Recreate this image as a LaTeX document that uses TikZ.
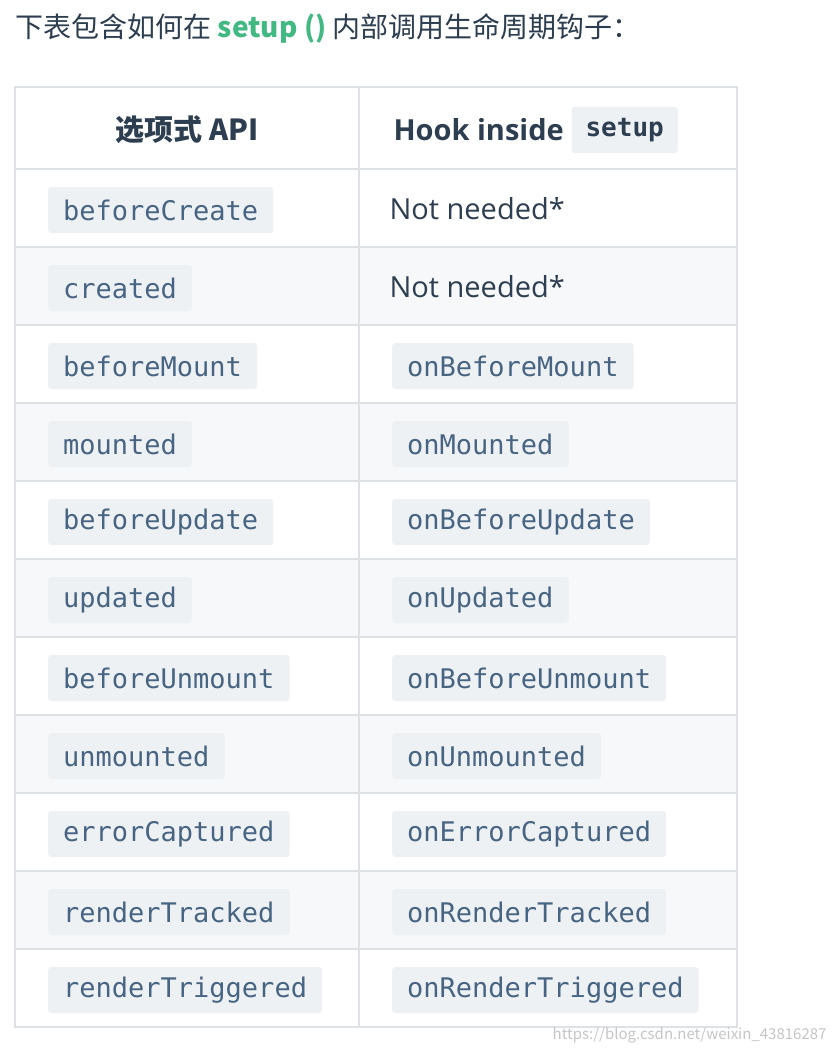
\documentclass[tikz,border=0pt]{standalone}
\usepackage{fontspec}
\setmainfont{Noto Sans CJK SC}
\newfontfamily\codefont{DejaVu Sans Mono}
\newfontfamily\latinsans{Open Sans}
\begin{document}
\begin{tikzpicture}[x=1pt,y=-1pt,
  chip/.style={fill=chipbg,rounded corners=3pt,inner xsep=15pt,minimum height=46pt,anchor=west,text=codec,font=\codefont\fontsize{27}{30}\selectfont},
  plain/.style={anchor=west,text=txt,font=\fontsize{28}{32}\selectfont},
  grid/.style={draw=lineg,line width=1.2pt}]
\definecolor{chipbg}{HTML}{EEF1F4}
\definecolor{codec}{HTML}{476582}
\definecolor{txt}{HTML}{2C3E50}
\definecolor{grn}{HTML}{42B983}
\definecolor{lineg}{HTML}{DFE2E5}
\definecolor{alt}{HTML}{F6F8FA}
\useasboundingbox (0,0) rectangle (836,1054);
\fill[white] (0,0) rectangle (836,1054);
\node[plain,font=\fontsize{28}{30}\selectfont] (title) at (12,28) {下表包含如何在 \textcolor{grn}{\textbf{setup ()}} 内部调用生命周期钩子：};
\foreach \i in {2,4,6,8,10} {\fill[alt] (15,{169+78*(\i-1)}) rectangle (737,{169+78*\i});}
\foreach \i in {0,...,11} {\draw[grid] (15,{169+78*\i}) -- (737,{169+78*\i});}
\draw[grid] (15,87) rectangle (737,1027);
\draw[grid] (359,87) -- (359,1027);
\node[plain,font=\bfseries\fontsize{29}{32}\selectfont,anchor=center] (h1) at (187,130) {选项式 API};
\node[plain,font=\latinsans\bfseries\fontsize{29}{32}\selectfont] (h2) at (390,130) {Hook inside};
\node[chip,font=\codefont\bfseries\fontsize{26}{30}\selectfont,text=txt,inner xsep=14pt,xshift=4pt] (h3) at (h2.east) {setup};
\foreach \a/\b [count=\i] in {beforeCreate/,created/,beforeMount/onBeforeMount,mounted/onMounted,beforeUpdate/onBeforeUpdate,updated/onUpdated,beforeUnmount/onBeforeUnmount,unmounted/onUnmounted,errorCaptured/onErrorCaptured,renderTracked/onRenderTracked,renderTriggered/onRenderTriggered} {
  \node[chip] (a\i) at (48,{169+78*(\i-1)+41}) {\a};
  \ifnum\i>2 \node[chip] (b\i) at (392,{169+78*(\i-1)+41}) {\b};
  \else \node[plain,font=\latinsans\fontsize{29}{32}\selectfont] (b\i) at (386,{169+78*(\i-1)+40}) {Not needed*};\fi
}
\node[anchor=east,text=gray!45,font=\fontsize{15}{17}\selectfont] (wm) at (830,1035) {https://blog.csdn.net/weixin\_43816287};
\end{tikzpicture}
\end{document}
